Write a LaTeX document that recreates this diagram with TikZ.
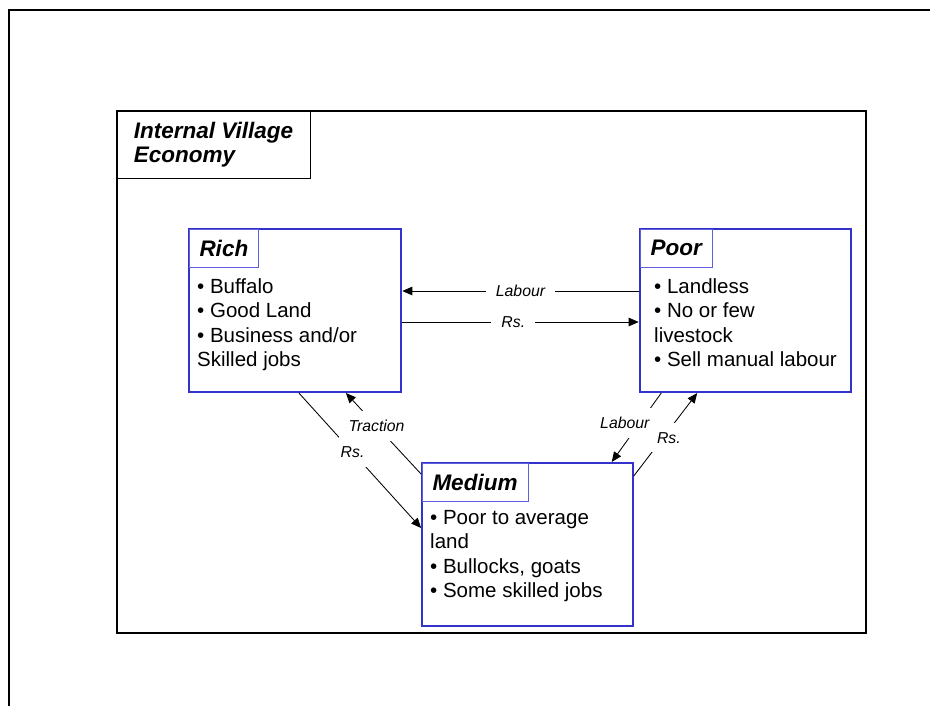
\documentclass[tikz,border=0pt]{standalone}
\usepackage{fontspec}
\setmainfont{Liberation Sans}
\usetikzlibrary{arrows.meta}

\definecolor{boxblue}{RGB}{51,51,204}
\definecolor{headblue}{RGB}{95,95,222}

\tikzset{
  groupBox/.style={draw=boxblue, line width=2.8pt, anchor=north west, outer sep=0pt,
    inner sep=0pt, minimum width=#1, minimum height=163pt},
  groupHead/.style={draw=headblue, line width=0.9pt, fill=white, anchor=north west,
    outer sep=0pt, minimum height=38pt, inner xsep=10.5pt, inner ysep=0pt,
    font=\fontsize{22.5}{26}\selectfont\bfseries\itshape},
  groupBody/.style={anchor=north west, inner sep=0pt, align=left,
    font=\fontsize{20.5}{24.5}\selectfont},
  flow/.style={draw, line width=0.85pt, shorten >=1.3pt, shorten <=1.3pt,
    -{Triangle[length=10pt,width=8.5pt]}},
  flowLabel/.style={fill=white, inner xsep=10pt, inner ysep=9pt,
    font=\fontsize{15.8}{18}\selectfont\itshape},
}

\begin{document}
\begin{tikzpicture}[x=1pt, y=-1pt]
    \useasboundingbox (0,0) rectangle (930,705);
    \draw[line width=1.7pt] (9,712) -- (9,10) -- (938,10);  % slide frame
    \draw[line width=2pt] (117,111) rectangle (866,633);

    \node[draw, line width=0.9pt, fill=white, anchor=north west, outer sep=0pt,
      minimum width=193pt, minimum height=67pt, align=left,
      font=\fontsize{22.5}{24}\selectfont\bfseries\itshape] (title) at (117,111)
      {Internal Village\\Economy};

    \node[groupBox=212pt] (rich) at (189,229) {};
    \node[groupHead] (rich-head) at (rich.north west) {Rich};
    \node[groupBody] (rich-body) at (197,278)
      {\textbullet{} Buffalo\\\textbullet{} Good Land\\\textbullet{} Business and/or\\Skilled jobs};

    \node[groupBox=211pt] (poor) at (640,229) {};
    \node[groupHead] (poor-head) at (poor.north west) {Poor};
    \node[groupBody] (poor-body) at (654,278)
      {\textbullet{} Landless\\\textbullet{} No or few\\livestock\\\textbullet{} Sell manual labour};

    \node[groupBox=211pt] (medium) at (422,463) {};
    \node[groupHead] (medium-head) at (medium.north west) {Medium};
    \node[groupBody] (medium-body) at (430,510)
      {\textbullet{} Poor to average\\land\\\textbullet{} Bullocks, goats\\\textbullet{} Some skilled jobs};

    \draw[flow] ([yshift=-62pt]poor.north west) -- node[flowLabel] {Labour} ([yshift=-62pt]rich.north east);
    \draw[flow] ([yshift=-93pt]rich.north east) -- node[flowLabel, pos=0.47] {Rs.} ([yshift=-93pt]poor.north west);

    \draw[flow] ([xshift=109pt]rich.south west) -- node[flowLabel, pos=0.44] {Rs.} ([yshift=-66pt]medium.north west);
    \draw[flow] ([yshift=-12pt]medium.north west) -- node[flowLabel, pos=0.59] {Traction} ([xshift=156pt]rich.south west);

    \draw[flow] ([xshift=22pt]poor.south west) -- node[flowLabel, pos=0.435, xshift=-15pt] {Labour} ([xshift=189pt]medium.north west);
    \draw[flow] ([yshift=-14pt]medium.north east) -- node[flowLabel, pos=0.46, xshift=6pt] {Rs.} ([xshift=58pt]poor.south west);
\end{tikzpicture}
\end{document}
